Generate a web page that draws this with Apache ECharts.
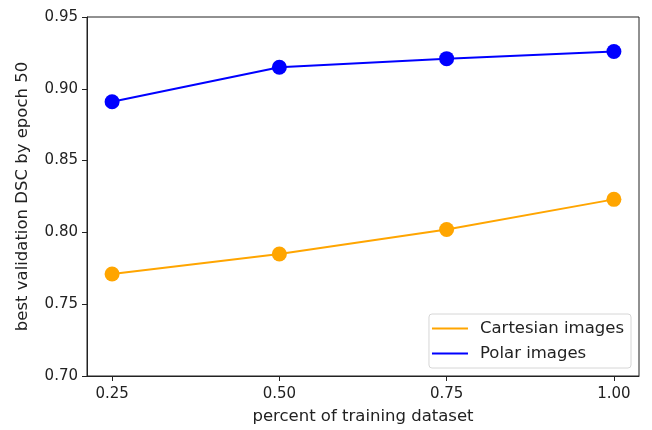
<!DOCTYPE html>
<html>
<head>
<meta charset="utf-8">
<script src="https://cdn.jsdelivr.net/npm/echarts@6/dist/echarts.min.js"></script>
<style>
  html, body { margin: 0; padding: 0; background: #fff; }
  #Chart { width: 652px; height: 430px; }
</style>
</head>
<body>
<div id="Chart"></div>
<script>
// data
var percents = [0.25, 0.50, 0.75, 1.00];
var cartesian = [0.771, 0.785, 0.802, 0.823];
var polar = [0.891, 0.915, 0.921, 0.926];
var xTicks = [0.25, 0.50, 0.75, 1.00];
var yTicks = [0.70, 0.75, 0.80, 0.85, 0.90, 0.95];

function pairs(xs, ys) {
    return xs.map(function (x, i) { return [x, ys[i]]; });
}

var font = 'DejaVu Sans';
var ink = '#222';

var Chart = echarts.init(document.getElementById('Chart'));

var ChartOption = {
    animation: false,
    textStyle: { fontFamily: font },
    grid: {
        left: 87, right: 13, top: 17, bottom: 54,
        show: true, borderColor: ink, borderWidth: 1
    },
    legend: {
        orient: 'vertical',
        right: 21,
        bottom: 62,
        icon: 'rect',
        itemWidth: 36,
        itemHeight: 2,
        itemGap: 8,
        padding: [6, 7, 6, 3],
        borderColor: '#d6d6d6',
        borderWidth: 1,
        borderRadius: 3,
        textStyle: { fontFamily: font, fontSize: 16.5, color: ink, padding: [0, 0, 0, 7] },
        data: ['Cartesian images', 'Polar images']
    },
    xAxis: {
        type: 'value',
        min: 0.2125,
        max: 1.0375,
        name: 'percent of training dataset',
        nameLocation: 'middle',
        nameGap: 32,
        nameTextStyle: { fontFamily: font, fontSize: 16.5, color: ink },
        axisLine: { lineStyle: { color: ink } },
        axisTick: { customValues: xTicks, length: 5, lineStyle: { color: ink } },
        axisLabel: {
            customValues: xTicks,
            margin: 11,
            fontSize: 15,
            color: ink,
            formatter: function (v) { return v.toFixed(2); }
        },
        splitLine: { show: false }
    },
    yAxis: {
        type: 'value',
        min: 0.70,
        max: 0.95,
        name: 'best validation DSC by epoch 50',
        nameLocation: 'middle',
        nameGap: 56,
        nameTextStyle: { fontFamily: font, fontSize: 16.5, color: ink },
        axisLine: { show: true, lineStyle: { color: ink } },
        axisTick: { show: true, customValues: yTicks, length: 5, lineStyle: { color: ink } },
        axisLabel: {
            customValues: yTicks,
            margin: 9,
            fontSize: 15,
            color: ink,
            formatter: function (v) { return v.toFixed(2); }
        },
        splitLine: { show: false }
    },
    series: [
        {
            name: 'Cartesian images',
            type: 'line',
            data: pairs(percents, cartesian),
            color: '#ffa500',
            symbol: 'circle',
            symbolSize: 15,
            lineStyle: { width: 2 }
        },
        {
            name: 'Polar images',
            type: 'line',
            data: pairs(percents, polar),
            color: '#0000ff',
            symbol: 'circle',
            symbolSize: 15,
            lineStyle: { width: 2 }
        }
    ]
};

Chart.setOption(ChartOption);
window.addEventListener("resize", function () {
    Chart.resize();
});
</script>
</body>
</html>
